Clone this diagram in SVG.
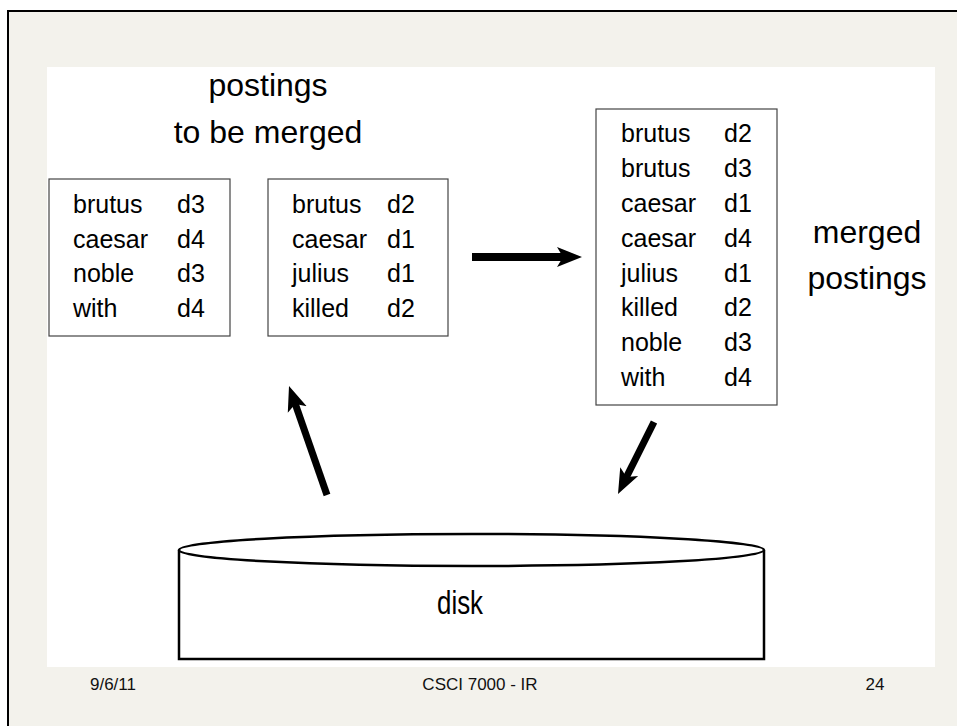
<svg xmlns="http://www.w3.org/2000/svg" width="957" height="726" viewBox="0 0 957 726">
  <style>
    .cm { font-family: "Liberation Sans", Arial, sans-serif; fill: #000; }
    .box { fill: #fff; stroke: #444; stroke-width: 1.2; }
    .row { font-size: 25px; }
    .title { font-size: 32px; text-anchor: middle; }
    .foot { font-family: "Liberation Sans", Arial, sans-serif; font-size: 17px; fill: #111; }
    .arrow { stroke: #000; fill: none; }
    .disk { fill: #fff; stroke: #000; stroke-width: 2.5; }
  </style>
  <defs>
    <marker id="head" markerUnits="userSpaceOnUse" viewBox="0 -11 26 22" refX="8" refY="0" markerWidth="26" markerHeight="22" orient="auto">
      <path d="M0,-10 L25,0 L0,10 L6,0 Z" fill="#000"/>
    </marker>
  </defs>

  <rect x="0" y="0" width="957" height="726" fill="#fff"/>
  <rect x="8" y="11" width="1000" height="800" fill="#f3f2ec" stroke="#000" stroke-width="2"/>
  <rect x="47" y="67" width="888" height="600" fill="#fff"/>

  <g id="title-left">
    <text class="cm title" x="268" y="96">postings</text>
    <text class="cm title" x="268" y="143">to be merged</text>
  </g>

  <g id="title-right">
    <text class="cm title" x="867" y="243">merged</text>
    <text class="cm title" x="867" y="289">postings</text>
  </g>

  <g id="list1">
    <rect class="box" x="49" y="179" width="181" height="157"/>
    <text class="cm row" x="73" y="213">brutus</text><text class="cm row" x="177" y="213">d3</text>
    <text class="cm row" x="73" y="248">caesar</text><text class="cm row" x="177" y="248">d4</text>
    <text class="cm row" x="73" y="282">noble</text><text class="cm row" x="177" y="282">d3</text>
    <text class="cm row" x="73" y="317">with</text><text class="cm row" x="177" y="317">d4</text>
  </g>

  <g id="list2">
    <rect class="box" x="268" y="179" width="180" height="157"/>
    <text class="cm row" x="292" y="213">brutus</text><text class="cm row" x="387" y="213">d2</text>
    <text class="cm row" x="292" y="248">caesar</text><text class="cm row" x="387" y="248">d1</text>
    <text class="cm row" x="292" y="282">julius</text><text class="cm row" x="387" y="282">d1</text>
    <text class="cm row" x="292" y="317">killed</text><text class="cm row" x="387" y="317">d2</text>
  </g>

  <g id="merged">
    <rect class="box" x="596" y="109" width="181" height="296"/>
    <text class="cm row" x="621" y="142">brutus</text><text class="cm row" x="724" y="142">d2</text>
    <text class="cm row" x="621" y="177">brutus</text><text class="cm row" x="724" y="177">d3</text>
    <text class="cm row" x="621" y="212">caesar</text><text class="cm row" x="724" y="212">d1</text>
    <text class="cm row" x="621" y="247">caesar</text><text class="cm row" x="724" y="247">d4</text>
    <text class="cm row" x="621" y="282">julius</text><text class="cm row" x="724" y="282">d1</text>
    <text class="cm row" x="621" y="316">killed</text><text class="cm row" x="724" y="316">d2</text>
    <text class="cm row" x="621" y="351">noble</text><text class="cm row" x="724" y="351">d3</text>
    <text class="cm row" x="621" y="386">with</text><text class="cm row" x="724" y="386">d4</text>
  </g>

  <g id="disk">
    <path class="disk" d="M179,550 L179,659 L764,659 L764,550"/>
    <ellipse class="disk" cx="471.5" cy="550" rx="292.5" ry="16"/>
    <text x="437" y="614" font-family="Liberation Sans, Arial, sans-serif" font-size="34" textLength="46" lengthAdjust="spacingAndGlyphs" fill="#000">disk</text>
  </g>

  <g id="connectors">
    <line class="arrow" x1="472" y1="257" x2="565" y2="257" stroke-width="8" marker-end="url(#head)"/>
    <line class="arrow" x1="327" y1="495" x2="294.6" y2="402" stroke-width="7" marker-end="url(#head)"/>
    <line class="arrow" x1="654" y1="422" x2="625.6" y2="478.8" stroke-width="7" marker-end="url(#head)"/>
  </g>

  <g id="footer">
    <text class="foot" x="113" y="690" text-anchor="middle">9/6/11</text>
    <text class="foot" x="480" y="690" text-anchor="middle">CSCI 7000 - IR</text>
    <text class="foot" x="875" y="690" text-anchor="middle">24</text>
  </g>
</svg>
